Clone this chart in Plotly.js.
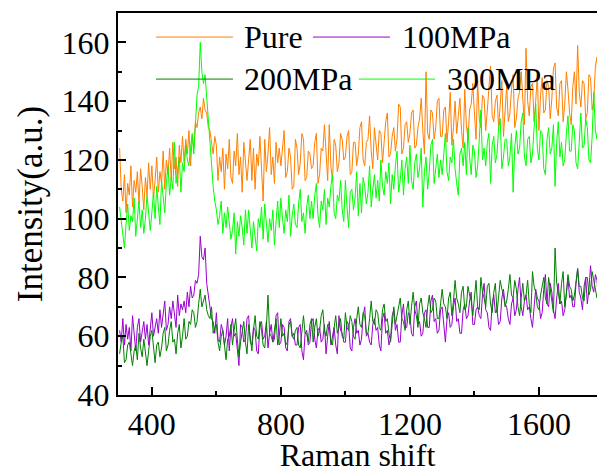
<!DOCTYPE html>
<html>
<head>
<meta charset="utf-8">
<script src="https://cdn.plot.ly/plotly-3.0.1.min.js"></script>
<style>
html,body{margin:0;padding:0;background:#fff;}
#chart{width:597px;height:473px;}
</style>
</head>
<body>
<div id="chart"></div>
<script>
var ramanShift = [300,305,310,315,320,325,330,335,340,345,350,355,360,365,370,375,380,385,390,395,
400,405,410,415,420,425,430,435,440,445,450,455,460,465,470,475,480,485,490,495,
500,505,510,515,520,525,530,535,540,545,550,555,560,565,570,575,580,585,590,595,
600,605,610,615,620,625,630,635,640,645,650,655,660,665,670,675,680,685,690,695,
700,705,710,715,720,725,730,735,740,745,750,755,760,765,770,775,780,785,790,795,
800,805,810,815,820,825,830,835,840,845,850,855,860,865,870,875,880,885,890,895,
900,905,910,915,920,925,930,935,940,945,950,955,960,965,970,975,980,985,990,995,
1000,1005,1010,1015,1020,1025,1030,1035,1040,1045,1050,1055,1060,1065,1070,1075,1080,1085,1090,1095,
1100,1105,1110,1115,1120,1125,1130,1135,1140,1145,1150,1155,1160,1165,1170,1175,1180,1185,1190,1195,
1200,1205,1210,1215,1220,1225,1230,1235,1240,1245,1250,1255,1260,1265,1270,1275,1280,1285,1290,1295,
1300,1305,1310,1315,1320,1325,1330,1335,1340,1345,1350,1355,1360,1365,1370,1375,1380,1385,1390,1395,
1400,1405,1410,1415,1420,1425,1430,1435,1440,1445,1450,1455,1460,1465,1470,1475,1480,1485,1490,1495,
1500,1505,1510,1515,1520,1525,1530,1535,1540,1545,1550,1555,1560,1565,1570,1575,1580,1585,1590,1595,
1600,1605,1610,1615,1620,1625,1630,1635,1640,1645,1650,1655,1660,1665,1670,1675,1680,1685,1690,1695,
1700,1705,1710,1715,1720,1725,1730,1735,1740,1745,1750,1755,1760,1765,1770,1775,1780,1785,1790,1795,
1800];

var pure = [124,110,106,115,102,112,108,118,104,113, 109,116,105,117,111,103,114,108,119,110,
118,107,113,121,109,116,112,123,110,120, 115,124,113,126,117,121,111,125,119,128,
119,127,122,130,118,128,124,133,131,136, 138,134,141,137,136,131,130,126,122,128,
125,113,121,116,124,110,122,117,127,114, 112,123,118,129,115,121,109,126,119,113,
120,127,113,124,110,122,118,128,117,106, 127,116,122,131,115,121,112,126,119,124,
118,125,130,114,116,124,121,110,111,127, 124,115,119,129,127,113,114,123,122,117,
118,126,129,112,115,124,123,132,120,113, 132,118,113,127,125,116,119,129,127,120,
121,128,130,115,116,126,126,118,122,131, 133,120,118,126,127,135,123,117,131,124,
120,130,129,119,125,133,136,121,122,128, 131,123,127,139,138,122,124,132,133,126,
129,136,137,124,125,131,134,141,130,122, 150,129,127,137,136,127,131,140,141,128,
128,137,138,126,133,143,125,131,140,129, 135,141,130,124,144,132,127,137,139,146,
136,127,147,134,131,142,141,130,137,145, 152,135,133,140,142,131,138,147,128,136,
145,133,136,144,149,131,134,141,143,150, 139,132,158,140,135,145,146,133,140,149,
130,142,148,136,137,147,145,134,141,151, 153,138,135,146,147,133,139,150,144,136,
132,145,150,139,159,143,138,147,146,134, 136,149,148,137,140,152,155,141,137,146,
144];

var mpa100 = [62,58,66,57,64,59,63,55,67,60, 55,63,66,58,61,65,59,64,57,62,
68,60,63,66,61,69,63,67,72,62, 64,70,66,72,68,63,74,67,71,69,
72,68,75,70,77,73,74,79,78,81, 94,87,86,90,78,74,70,66,65,61,
68,59,58,64,62,57,60,66,55,63, 66,60,61,56,50,64,63,58,59,66,
67,58,57,63,62,55,54,64,65,59, 60,65,56,61,64,58,59,67,68,57,
58,64,63,56,55,65,66,60,61,57, 57,63,64,55,52,61,62,57,58,65,
66,59,56,62,63,58,59,64,54,60, 65,57,60,63,57,54,67,62,61,58,
58,65,64,56,55,63,66,61,62,57, 59,67,70,60,61,58,57,64,66,62,
63,57,55,66,68,61,62,57,59,67, 69,62,64,58,58,67,71,63,63,68,
67,61,60,70,72,64,65,60,61,68, 69,63,63,72,74,65,66,61,62,69,
70,63,58,66,68,63,64,70,73,65, 66,61,61,69,71,66,67,72,75,64,
64,69,70,67,66,74,78,69,68,63, 62,71,74,68,69,64,65,73,76,71,
70,66,64,71,73,67,69,76,80,70, 67,72,74,69,70,66,63,70,76,73,
72,66,68,76,81,71,70,78,75,69, 66,73,78,71,72,67,69,75,80,73,
74,70,70,78,83,75,73,69,77,80, 71,76,84,77,75,81,79,70,72,78,
78];

var mpa200 = [54,58,60,51,52,57,58,53,50,55, 57,52,61,56,53,59,55,50,55,60,
62,55,51,57,58,53,56,61,63,55, 57,62,65,58,59,54,61,64,56,60,
66,59,60,65,64,69,68,63,65,71, 76,70,72,74,69,67,66,70,61,63,
64,58,55,60,62,57,52,59,60,64, 57,62,66,59,53,58,61,65,58,54,
64,59,55,62,67,60,59,65,62,57, 56,63,74,61,60,58,63,66,57,60,
66,60,61,57,58,64,65,60,59,62, 63,57,56,62,67,61,61,58,64,66,
58,63,66,60,62,67,69,62,60,64, 64,58,57,63,67,61,63,66,60,59,
68,63,62,67,65,60,59,66,70,64, 63,68,67,61,61,66,72,65,64,69,
68,63,62,69,71,65,66,61,58,64, 70,64,67,71,73,66,65,62,69,72,
64,70,75,69,67,63,71,73,68,66, 63,70,74,68,69,73,72,66,66,71,
76,71,70,66,73,75,67,72,79,73, 71,68,75,77,69,70,77,74,72,67,
74,79,70,69,80,75,73,70,77,78, 71,68,75,78,68,73,79,76,74,70,
72,76,81,74,73,79,76,70,67,73, 78,72,74,79,71,68,82,77,75,70,
69,74,77,80,73,71,80,76,72,68, 90,78,75,71,78,82,70,74,81,77,
76,72,74,79,83,77,77,73,72,80, 80,74,76,82,79,75,73,78,82,76,
77];

var mpa300 = [104,99,93,90,98,105,96,101,99,107, 94,100,106,97,103,95,100,108,102,96,
102,109,100,111,104,98,113,106,102,112, 118,108,114,110,126,112,116,121,109,119,
116,125,120,118,124,129,122,133,142,145, 160,150,146,149,141,132,125,117,111,106,
103,98,101,106,95,102,97,104,99,93, 96,102,88,99,94,101,97,91,103,95,
103,96,90,99,94,89,100,97,104,93, 105,98,92,100,96,103,91,99,106,97,
107,100,95,103,99,108,94,101,105,98, 97,105,110,99,102,95,104,108,100,106,
100,108,112,101,97,106,103,110,98,107, 104,111,115,102,100,108,106,113,103,99,
113,104,97,109,110,103,107,116,101,112, 102,114,111,105,109,118,104,110,115,107,
113,106,120,111,108,116,112,119,105,115, 110,118,123,109,113,120,108,117,121,112,
125,113,110,119,122,114,117,124,104,116, 121,110,116,125,127,112,118,122,114,120,
115,124,129,116,113,121,119,127,117,112, 108,122,124,118,126,115,131,121,115,125,
123,114,118,127,137,120,124,118,126,129, 112,125,128,119,122,131,134,117,121,127,
127,118,121,129,109,124,130,122,124,133, 136,121,118,127,128,119,122,131,139,124,
120,130,129,117,115,127,131,122,124,132, 111,126,133,121,126,118,120,129,135,123,
123,132,130,119,117,126,136,124,125,134, 131,120,119,128,143,130,127,136,133,122,
124];

var seriesNames = ["Pure","100MPa","200MPa","300MPa"];
var seriesData = [pure, mpa100, mpa200, mpa300];
var seriesColors = ["#FF8000","#9B00D0","#008000","#00FF00"];

var traces = seriesData.map(function(d,i){
  return {x: ramanShift, y: d, type:"scatter", mode:"lines", name: seriesNames[i],
          line:{color: seriesColors[i], width:1}, showlegend:false};
});

var font = "Liberation Serif, Times New Roman, serif";

// manual legend layout (paper coordinates)
var legendItems = [
  {name:seriesNames[0], color:seriesColors[0], x0:0.0793, x1:0.240, tx:0.259, y:0.937},
  {name:seriesNames[1], color:seriesColors[1], x0:0.407, x1:0.568, tx:0.589, y:0.937},
  {name:seriesNames[2], color:seriesColors[2], x0:0.0793, x1:0.240, tx:0.259, y:0.827},
  {name:seriesNames[3], color:seriesColors[3], x0:0.503, x1:0.662, tx:0.683, y:0.827}
];
var shapes = legendItems.map(function(it){
  return {type:"line", xref:"paper", yref:"paper", x0:it.x0, x1:it.x1, y0:it.y, y1:it.y,
          line:{color:it.color, width:1}};
});
var annotations = legendItems.map(function(it){
  return {xref:"paper", yref:"paper", x:it.tx, y:it.y, xanchor:"left", yanchor:"middle",
          text:it.name, showarrow:false, font:{family:font, size:32, color:"#000"}};
});

var layout = {
  width:597, height:473,
  margin:{l:118, r:0, t:13, b:78, pad:0},
  paper_bgcolor:"#fff", plot_bgcolor:"#fff",
  showlegend:false,
  xaxis:{
    range:[295,1780], tickmode:"linear", tick0:0, dtick:400,
    ticks:"inside", ticklen:8, tickwidth:2, tickcolor:"#000",
    minor:{dtick:200, ticks:"inside", ticklen:4, tickwidth:2, tickcolor:"#000", showgrid:false},
    showline:true, linewidth:2, linecolor:"#000", mirror:true,
    showgrid:false, zeroline:false,
    tickfont:{family:font, size:32, color:"#000"},
    title:{text:"Raman shift", font:{family:font, size:32, color:"#000"}, standoff:9}
  },
  yaxis:{
    range:[40,170], tickmode:"linear", tick0:0, dtick:20,
    ticks:"inside", ticklen:8, tickwidth:2, tickcolor:"#000",
    minor:{dtick:10, ticks:"inside", ticklen:4, tickwidth:2, tickcolor:"#000", showgrid:false},
    showline:true, linewidth:2, linecolor:"#000",
    showgrid:false, zeroline:false,
    tickfont:{family:font, size:32, color:"#000"},
    title:{text:"Intensity(a.u.)", font:{family:font, size:35, color:"#000"}, standoff:8}
  },
  shapes:shapes,
  annotations:annotations
};

Plotly.newPlot("chart", traces, layout, {displayModeBar:false, staticPlot:true});
</script>
</body>
</html>
